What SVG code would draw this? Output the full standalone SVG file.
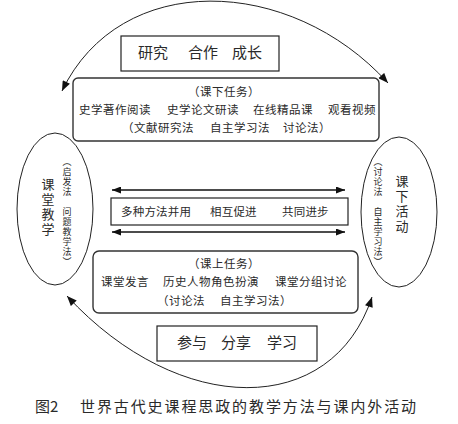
<svg xmlns="http://www.w3.org/2000/svg" width="458" height="424" viewBox="0 0 458 424">
<style>
text{font-family:"Noto Sans CJK SC","Noto Sans CJK JP",sans-serif;fill:#2a2a2a}
.box{fill:none;stroke:#222;stroke-width:1.2}
.rbox{fill:none;stroke:#333;stroke-width:1.4}
.ell{fill:none;stroke:#222;stroke-width:1}
.arc{fill:none;stroke:#222;stroke-width:1}
.dbl{fill:none;stroke:#111;stroke-width:1.3}
.t15{font-size:15px}
.t12{font-size:11.5px;letter-spacing:0.5px}
.vt13{font-size:13px;letter-spacing:2px;writing-mode:vertical-rl}
.vt10{font-size:9px;letter-spacing:1px;writing-mode:vertical-rl}
</style>
<defs>
<marker id="ah" viewBox="0 0 10 8" refX="10" refY="4" markerWidth="11" markerHeight="8" markerUnits="userSpaceOnUse" orient="auto-start-reverse">
<path d="M0,0 L10,4 L0,8 z" fill="#111"/>
</marker>
<marker id="ah2" viewBox="0 0 9 7" refX="9" refY="3.5" markerWidth="9" markerHeight="7" markerUnits="userSpaceOnUse" orient="auto-start-reverse">
<path d="M0,0 L9,3.5 L0,7 z" fill="#111"/>
</marker>
</defs>

<g id="connectors">
<path class="arc" d="M62,91 C120,-30 290,-25 388,83" marker-start="url(#ah)" marker-end="url(#ah)"/>
<path class="arc" d="M67,296 C180,418 332,418 372,297" marker-start="url(#ah)" marker-end="url(#ah)"/>
<line class="dbl" x1="112" y1="190" x2="345" y2="190" marker-start="url(#ah2)" marker-end="url(#ah2)"/>
<line class="dbl" x1="112" y1="232" x2="345" y2="232" marker-start="url(#ah2)" marker-end="url(#ah2)"/>
</g>

<g id="node-top">
<rect class="box" x="121" y="36" width="158" height="35"/>
<text class="t15" y="58"><tspan x="138">研究</tspan><tspan x="188">合作</tspan><tspan x="232">成长</tspan></text>
</g>

<g id="node-after-class-tasks">
<rect class="rbox" x="73" y="78" width="306" height="63" rx="5"/>
<text class="t12" x="188" y="96">（课下任务）</text>
<text class="t12" y="114"><tspan x="79">史学著作阅读</tspan><tspan x="167">史学论文研读</tspan><tspan x="253">在线精品课</tspan><tspan x="328">观看视频</tspan></text>
<text class="t12" y="132"><tspan x="122">（文献研究法</tspan><tspan x="210">自主学习法</tspan><tspan x="283">讨论法）</tspan></text>
</g>

<g id="node-classroom">
<ellipse class="ell" cx="55" cy="209" rx="38" ry="76"/>
<text class="vt13" x="48" y="178">课堂教学</text>
<text class="vt10" x="67" y="157">（启发法　问题教学法）</text>
</g>

<g id="node-after-class">
<ellipse class="ell" cx="399" cy="212" rx="38" ry="75"/>
<text class="vt10" x="378" y="157">（讨论法　自主学习法）</text>
<text class="vt13" x="402" y="175">课下活动</text>
</g>

<g id="node-middle">
<rect class="box" x="111" y="198" width="237" height="27"/>
<text class="t12" y="216" style="letter-spacing:0.2px"><tspan x="121">多种方法并用</tspan><tspan x="210">相互促进</tspan><tspan x="282">共同进步</tspan></text>
</g>

<g id="node-in-class-tasks">
<rect class="rbox" x="93" y="251" width="265" height="62" rx="6"/>
<text class="t12" x="188" y="268">（课上任务）</text>
<text class="t12" y="286"><tspan x="101">课堂发言</tspan><tspan x="163">历史人物角色扮演</tspan><tspan x="275">课堂分组讨论</tspan></text>
<text class="t12" y="305"><tspan x="157">（讨论法</tspan><tspan x="220">自主学习法）</tspan></text>
</g>

<g id="node-bottom">
<rect class="box" x="157" y="326" width="160" height="35"/>
<text class="t15" y="348"><tspan x="177">参与</tspan><tspan x="221">分享</tspan><tspan x="267">学习</tspan></text>
</g>

<text class="t15" y="412"><tspan x="35">图2</tspan><tspan x="80" style="letter-spacing:1.9px">世界古代史课程思政的教学方法与课内外活动</tspan></text>
</svg>
